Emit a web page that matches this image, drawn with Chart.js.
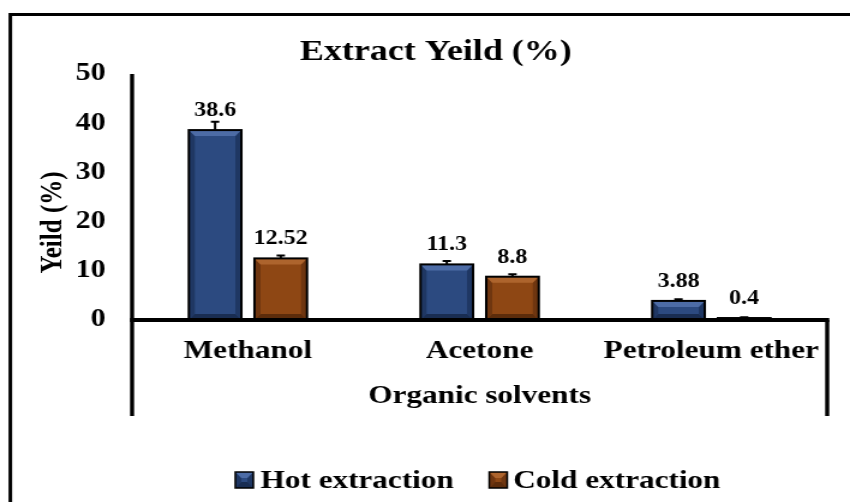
<!DOCTYPE html>
<html>
<head>
<meta charset="utf-8">
<script src="https://cdn.jsdelivr.net/npm/chart.js@4"></script>
<style>
  html, body { margin: 0; padding: 0; background: #fff; overflow: hidden; }
  #wrap {
    position: absolute; left: 0; top: 0;
    width: 708px; height: 502px;
    transform: scaleX(1.2005650); transform-origin: 0 0;
  }
</style>
</head>
<body>
<div id="wrap"><canvas id="c"></canvas></div>
<script>
// ---- data ----
const solvents  = ['Methanol', 'Acetone', 'Petroleum ether'];
const hotYield  = [38.6, 11.3, 3.88];
const coldYield = [12.52, 8.8, 0.4];
const hotErr    = [1.7, 0.7, 0.35];
const coldErr   = [0.6, 0.5, 0.15];
const yTicks    = [0, 10, 20, 30, 40, 50];
const seriesNames = ['Hot extraction', 'Cold extraction'];
const chartTitle  = 'Extract Yeild (%)';
const yTitle      = 'Yeild (%)';
const xTitle      = 'Organic solvents';

// ---- styling ----
const SERIF = '"Liberation Serif", "Times New Roman", serif';
const palettes = [
  { face: '#2c4a80', top: '#4d6ca6', side: '#1f3763', bottom: '#192d52' },
  { face: '#8e4714', top: '#ad642d', side: '#6f3610', bottom: '#5c2c0b' }
];
const errors = [hotErr, coldErr];

function poly(ctx, color, pts) {
  ctx.beginPath();
  ctx.moveTo(pts[0][0], pts[0][1]);
  for (let i = 1; i < pts.length; i++) ctx.lineTo(pts[i][0], pts[i][1]);
  ctx.closePath();
  ctx.fillStyle = color;
  ctx.fill();
}

// bevelled block with a black outline
function bevelBox(ctx, l, t, r, b, pal, lw) {
  const w = r - l, h = b - t;
  if (h <= 0 || w <= 0) return;
  const bv = Math.min(6, h / 2), bh = Math.min(5, w / 2, h / 2 + 1);
  ctx.fillStyle = pal.face;
  ctx.fillRect(l, t, w, h);
  poly(ctx, pal.side,   [[l, t], [l + bh, t + bv], [l + bh, b - bv], [l, b]]);
  poly(ctx, pal.side,   [[r, t], [r - bh, t + bv], [r - bh, b - bv], [r, b]]);
  poly(ctx, pal.top,    [[l, t], [r, t], [r - bh, t + bv], [l + bh, t + bv]]);
  poly(ctx, pal.bottom, [[l, b], [r, b], [r - bh, b - bv], [l + bh, b - bv]]);
  ctx.strokeStyle = '#000';
  ctx.lineWidth = lw;
  ctx.strokeRect(l, t, w, h);
}

const decorPlugin = {
  id: 'decor',
  afterDatasetsDraw(chart) {
    const ctx = chart.ctx;
    const y = chart.scales.y;
    chart.data.datasets.forEach((ds, di) => {
      const meta = chart.getDatasetMeta(di);
      meta.data.forEach((bar, i) => {
        const half = bar.width / 2;
        bevelBox(ctx, bar.x - half, bar.y, bar.x + half, bar.base, palettes[di], 2);
        // upper error whisker
        const top = y.getPixelForValue(ds.data[i] + errors[di][i]);
        ctx.strokeStyle = '#000';
        ctx.lineWidth = 2;
        ctx.beginPath();
        ctx.moveTo(bar.x, bar.y);
        ctx.lineTo(bar.x, top);
        ctx.moveTo(bar.x - 3.5, top);
        ctx.lineTo(bar.x + 3.5, top);
        ctx.stroke();
        // value label
        ctx.fillStyle = '#000';
        ctx.font = 'bold 20px ' + SERIF;
        ctx.textAlign = 'center';
        ctx.textBaseline = 'alphabetic';
        ctx.fillText(String(ds.data[i]), bar.x, bar.y - 14);
      });
    });
  },
  afterDraw(chart) {
    const ctx = chart.ctx;
    const a = chart.chartArea;
    const ys = chart.scales.y;
    const W = chart.width, H = chart.height;
    ctx.save();
    ctx.strokeStyle = '#000';
    ctx.lineCap = 'butt';

    // outer frame (left and top edges)
    ctx.lineWidth = 3;
    ctx.beginPath();
    ctx.moveTo(8.6, H + 2);
    ctx.lineTo(8.6, 14.5);
    ctx.lineTo(W + 2, 14.5);
    ctx.stroke();

    // axis box: value axis, category axis and the drop below it
    const zeroY = ys.getPixelForValue(0);
    const topY = ys.getPixelForValue(yTicks[yTicks.length - 1]);
    const lowY = zeroY + 96;
    ctx.lineWidth = 3.4;
    ctx.beginPath();
    ctx.moveTo(a.left, topY);
    ctx.lineTo(a.left, lowY);
    ctx.moveTo(a.right, lowY);
    ctx.lineTo(a.right, zeroY);
    ctx.stroke();
    ctx.lineWidth = 4;
    ctx.beginPath();
    ctx.moveTo(a.left - 1.7, zeroY);
    ctx.lineTo(a.right + 1.7, zeroY);
    ctx.stroke();

    ctx.fillStyle = '#000';
    ctx.textAlign = 'center';
    ctx.textBaseline = 'alphabetic';

    // chart title
    ctx.font = 'bold 30px ' + SERIF;
    ctx.fillText(chartTitle, 363, 60);

    // category-axis title
    ctx.font = 'bold 26px ' + SERIF;
    ctx.fillText(xTitle, (a.left + a.right) / 2, 403);

    // value-axis title
    ctx.save();
    ctx.translate(44.5, 222.5);
    ctx.rotate(-Math.PI / 2);
    ctx.font = 'bold 25px ' + SERIF;
    ctx.textBaseline = 'middle';
    ctx.fillText(yTitle, 0, 0);
    ctx.restore();

    // legend
    const items = [
      { box: 196, text: 217 },
      { box: 407.5, text: 427.5 }
    ];
    ctx.font = 'bold 26px ' + SERIF;
    ctx.textAlign = 'left';
    items.forEach((it, di) => {
      bevelBox(ctx, it.box, 472, it.box + 15, 488, palettes[di], 1.5);
      ctx.fillStyle = '#000';
      ctx.fillText(seriesNames[di], it.text, 488);
    });
    ctx.restore();
  }
};

new Chart(document.getElementById('c'), {
  type: 'bar',
  data: {
    labels: solvents,
    datasets: [
      { label: seriesNames[0], data: hotYield,  backgroundColor: palettes[0].face, borderWidth: 0 },
      { label: seriesNames[1], data: coldYield, backgroundColor: palettes[1].face, borderWidth: 0 }
    ]
  },
  options: {
    responsive: true,
    maintainAspectRatio: false,
    animation: false,
    events: [],
    layout: { padding: { top: 74, right: 19, bottom: 0, left: 0 } },
    datasets: { bar: { barPercentage: 0.8, categoryPercentage: 0.567 } },
    plugins: {
      legend: { display: false },
      title: { display: false },
      tooltip: { enabled: false }
    },
    scales: {
      x: {
        type: 'category',
        offset: true,
        grid: { display: false, drawTicks: false },
        border: { display: false },
        ticks: {
          color: '#000',
          font: { family: SERIF, size: 26, weight: 'bold' },
          padding: 16,
          maxRotation: 0,
          autoSkip: false
        },
        afterFit(s) { s.height = 182; }
      },
      y: {
        min: yTicks[0],
        max: yTicks[yTicks.length - 1],
        grid: { display: false, drawTicks: false },
        border: { display: false },
        ticks: {
          stepSize: yTicks[1] - yTicks[0],
          color: '#000',
          font: { family: SERIF, size: 25, weight: 'bold' },
          padding: 22
        },
        afterFit(s) { s.width = 110; }
      }
    }
  },
  plugins: [decorPlugin]
});
</script>
</body>
</html>
